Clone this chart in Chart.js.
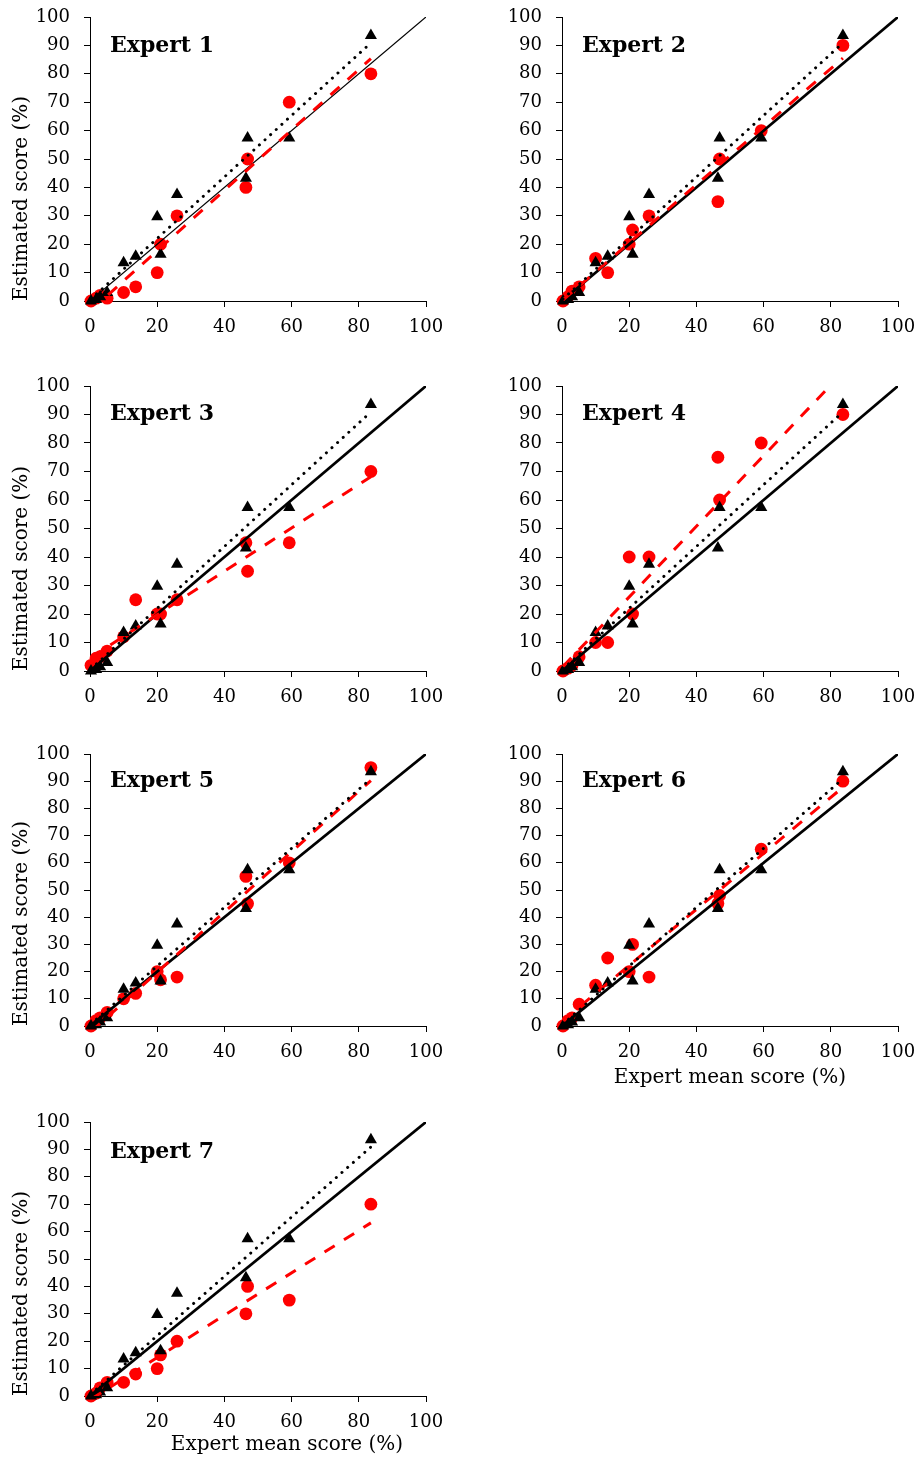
<!DOCTYPE html>
<html><head><meta charset="utf-8">
<script src="https://cdn.jsdelivr.net/npm/chart.js@4.4.1/dist/chart.umd.min.js"></script>
<style>
html,body{margin:0;padding:0;background:#fff;}
#wrap{position:relative;width:921px;height:1461px;overflow:hidden;background:#fff;}
#wrap canvas{position:absolute;}
</style></head><body><div id="wrap"></div>
<script>
// ---------- data ----------
const meanScore  = [0.3, 1.8, 3.0, 5.1, 10, 13.6, 20, 21, 25.9, 46.4, 46.9, 59.3, 83.6];
const modelScore = [0, 0.5, 1.5, 3, 13.5, 15.8, 29.7, 16.5, 37.5, 43.2, 57.4, 57.4, 93.5];
const expert1 = [0, 1, 2, 1, 3, 5, 10, 20, 30, 40, 50, 70, 80];
const expert2 = [0, 1.5, 3.5, 5, 15, 10, 20, 25, 30, 35, 50, 60, 90];
const expert3 = [2, 4.5, 5, 7, 12, 25, 20, 20, 25, 45, 35, 45, 70];
const expert4 = [0, 1, 2, 5, 10, 10, 40, 20, 40, 75, 60, 80, 90];
const expert5 = [0, 2, 3, 5, 10, 12, 20, 17, 18, 55, 45, 60, 95];
const expert6 = [0, 2, 3, 8, 15, 25, 20, 30, 18, 45, 48, 65, 90];
const expert7 = [0, 1, 3, 5, 5, 8, 10, 15, 20, 30, 40, 35, 70];
const expertNames = ['Expert 1','Expert 2','Expert 3','Expert 4','Expert 5','Expert 6','Expert 7'];
const identityLine = [0, 100];
const xTicks = [0, 20, 40, 60, 80, 100];
const yTicks = [0, 10, 20, 30, 40, 50, 60, 70, 80, 90, 100];
const yTitleText = 'Estimated score (%)';
const xTitleText = 'Expert mean score (%)';

// ---------- layout ----------
const FONT = '"DejaVu Serif", "Liberation Serif", serif';
const cols = [{cx:0, cw:460, left:90, right:426}, {cx:460, cw:461, left:562, right:898}];
const rows = [
  {cy:0,    ch:365, top:17,  bottom:301,  dy:35},
  {cy:365,  ch:370, top:386, bottom:671,  dy:34},
  {cy:735,  ch:375, top:754, bottom:1026, dy:33},
  {cy:1110, ch:351, top:1122,bottom:1396, dy:35.5}
];
const panels = [
  {est:expert1, col:0, row:0, yTitle:true,  xTitle:null,     diag:1.25},
  {est:expert2, col:1, row:0, yTitle:false, xTitle:null,     diag:2.75},
  {est:expert3, col:0, row:1, yTitle:true,  xTitle:null,     diag:2.75},
  {est:expert4, col:1, row:1, yTitle:false, xTitle:null,     diag:2.75},
  {est:expert5, col:0, row:2, yTitle:true,  xTitle:null,     diag:2.75},
  {est:expert6, col:1, row:2, yTitle:false, xTitle:'native', diag:2.75},
  {est:expert7, col:0, row:3, yTitle:true,  xTitle:'shift',  diag:2.75}
];

// least-squares linear trendline over the data's x range (as the spreadsheet trendline)
function trendline(xs, ys) {
  const n = xs.length;
  const mx = xs.reduce((a,b)=>a+b,0)/n, my = ys.reduce((a,b)=>a+b,0)/n;
  let sxy = 0, sxx = 0;
  for (let i=0;i<n;i++){ sxy += (xs[i]-mx)*(ys[i]-my); sxx += (xs[i]-mx)*(xs[i]-mx); }
  const b = sxy/sxx, a = my - b*mx;
  const x0 = Math.min(...xs), x1 = Math.max(...xs);
  return [{x:x0, y:a+b*x0}, {x:x1, y:a+b*x1}];
}
const pts = (xs, ys) => xs.map((x,i)=>({x, y:ys[i]}));

const panelLabel = {
  id: 'panelLabel',
  afterDatasetsDraw(chart, args, opts) {
    const {ctx, chartArea} = chart;
    ctx.save();
    ctx.fillStyle = '#000';
    ctx.font = 'bold 22px ' + FONT;
    ctx.textAlign = 'left';
    ctx.textBaseline = 'alphabetic';
    ctx.fillText(opts.text, chartArea.left + 20, chartArea.top + opts.dy);
    if (opts.shiftTitle) {
      ctx.font = '20px ' + FONT;
      ctx.textAlign = 'center';
      ctx.textBaseline = 'middle';
      ctx.fillText(opts.shiftTitle, (chartArea.left + chartArea.right)/2 + 29, chartArea.bottom + 49);
    }
    ctx.restore();
  }
};

const wrap = document.getElementById('wrap');
panels.forEach((p, k) => {
  const c = cols[p.col], r = rows[p.row];
  const cv = document.createElement('canvas');
  cv.width = c.cw; cv.height = r.ch;
  cv.style.left = c.cx + 'px'; cv.style.top = r.cy + 'px';
  cv.style.width = c.cw + 'px'; cv.style.height = r.ch + 'px';
  wrap.appendChild(cv);
  const axisGrid = {display:true, drawOnChartArea:false, drawTicks:true, tickLength:6, color:'#000', lineWidth:1};
  new Chart(cv.getContext('2d'), {
    type: 'scatter',
    data: {
      datasets: [
        {data: trendline(meanScore, modelScore), showLine:true, borderColor:'#000', borderWidth:3,
         borderDash:[0.01, 7.6], borderCapStyle:'round', pointRadius:0, order:0},
        {data: trendline(meanScore, p.est), showLine:true, borderColor:'#ff0000', borderWidth:3,
         borderDash:[12, 11], borderCapStyle:'butt', pointRadius:0, order:1},
        {data: identityLine.map(v=>({x:v, y:v})), showLine:true, borderColor:'#000', borderWidth:p.diag,
         pointRadius:0, order:2},
        {data: pts(meanScore, modelScore), pointStyle:'triangle', pointRadius:7, backgroundColor:'#000',
         borderColor:'#000', borderWidth:0, clip:false, order:3},
        {data: pts(meanScore, p.est), pointStyle:'circle', pointRadius:6.4, backgroundColor:'#ff0000',
         borderColor:'#ff0000', borderWidth:0, clip:false, order:4}
      ]
    },
    options: {
      responsive:false, animation:false, events:[],
      layout: {padding: {left:0, top: r.top - r.cy, right: c.cx + c.cw - c.right, bottom:0}},
      plugins: {legend:{display:false}, tooltip:{enabled:false},
        panelLabel: {text: expertNames[k], dy: r.dy, shiftTitle: p.xTitle === 'shift' ? xTitleText : null}},
      scales: {
        x: {type:'linear', min:0, max:100,
          afterBuildTicks: s => { s.ticks = xTicks.map(v=>({value:v})); },
          afterFit: s => { s.height = r.cy + r.ch - r.bottom; s.paddingLeft = 0; s.paddingRight = 0; },
          ticks: {color:'#000', font:{family:FONT, size:18, lineHeight:1.2}, padding:10, maxRotation:0, autoSkip:false},
          grid: axisGrid, border: {display:true, color:'#000', width:1},
          title: {display: p.xTitle === 'native', text: xTitleText, color:'#000',
                  font:{family:FONT, size:20, lineHeight:1.2}, padding:{top:0, bottom:20}}
        },
        y: {type:'linear', min:0, max:100,
          afterBuildTicks: s => { s.ticks = yTicks.map(v=>({value:v})); },
          afterFit: s => { s.width = c.left - c.cx; s.paddingTop = 0; s.paddingBottom = 0; },
          ticks: {color:'#000', font:{family:FONT, size:18, lineHeight:1.2}, padding:14, autoSkip:false},
          grid: axisGrid, border: {display:true, color:'#000', width:1},
          title: {display: p.yTitle, text: yTitleText, align:'start', color:'#000',
                  font:{family:FONT, size:20, lineHeight:1.2}, padding:{top:10, bottom:0}}
        }
      }
    },
    plugins: [panelLabel]
  });
});
</script>
</body></html>
